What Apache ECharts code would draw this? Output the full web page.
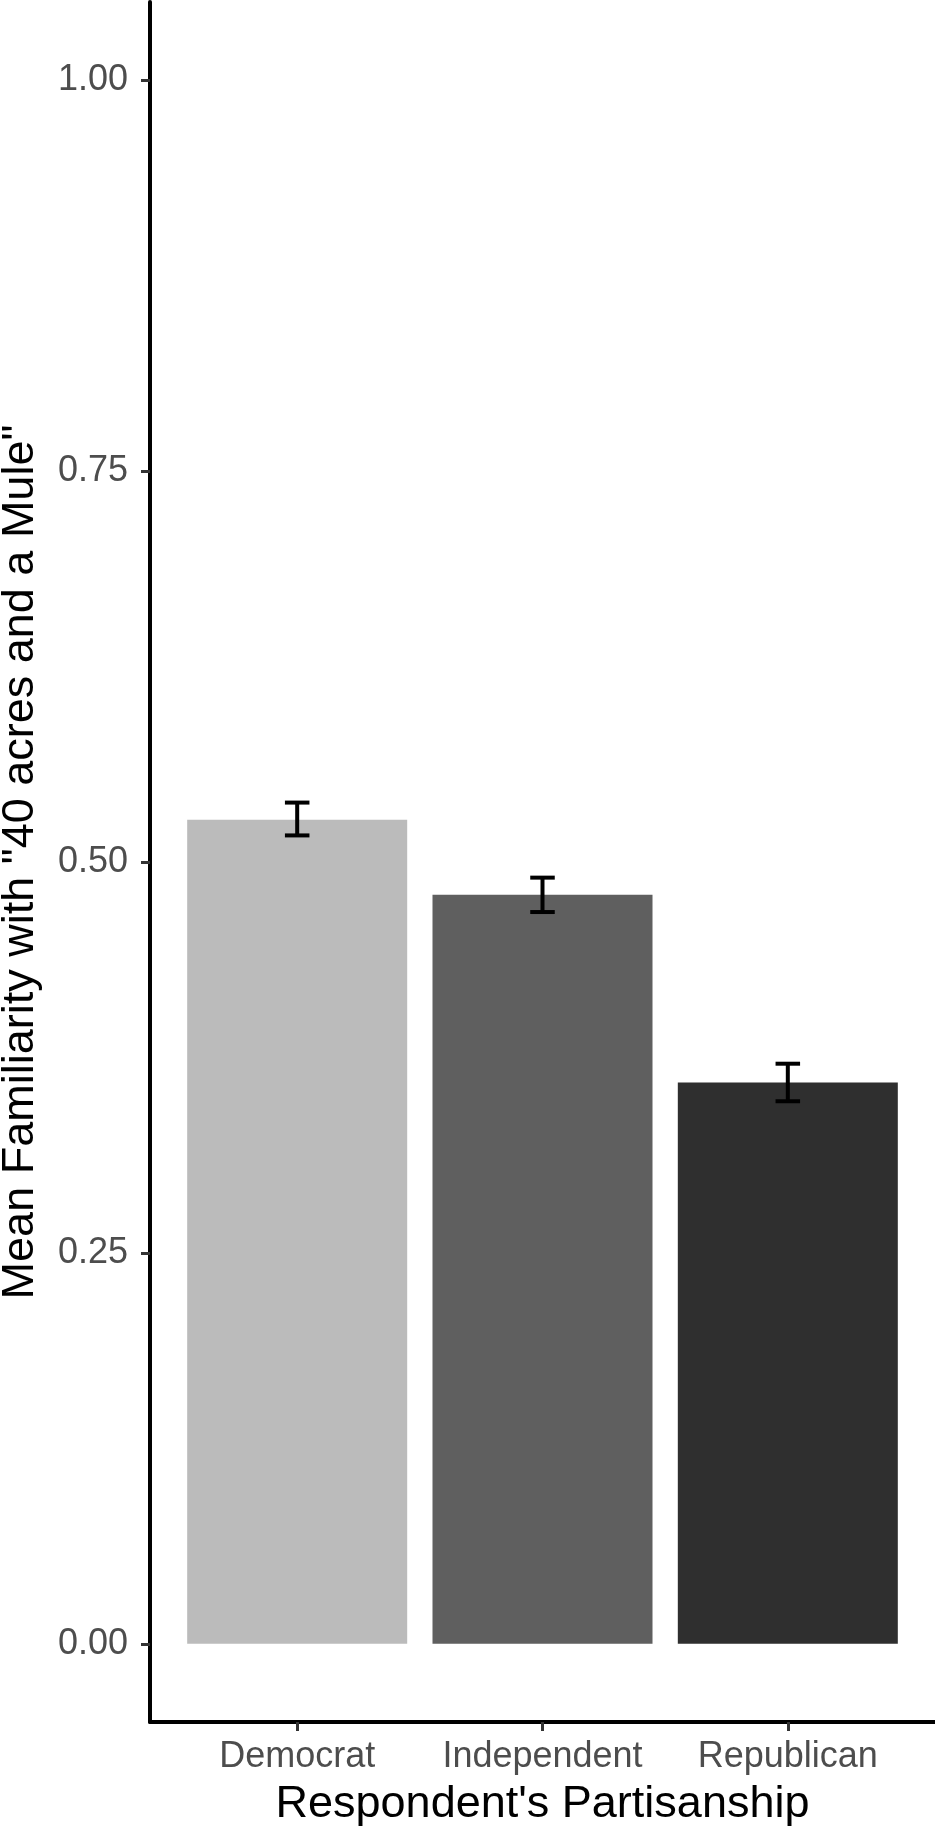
<!DOCTYPE html>
<html>
<head>
<meta charset="utf-8">
<script src="https://cdn.jsdelivr.net/npm/echarts@6/dist/echarts.min.js"></script>
<style>
  html, body { margin: 0; padding: 0; background: #fff; }
  #main { width: 935px; height: 1833px; }
</style>
</head>
<body>
<div id="main"></div>
<script>
// data
let categories = ["Democrat", "Independent", "Republican"];
let means = [0.527, 0.479, 0.359];
let lower = [0.517, 0.468, 0.347];
let upper = [0.538, 0.490, 0.371];
let barColors = ["#bbbbbb", "#5f5f5f", "#2f2f2f"];
let yTicks = [0, 0.25, 0.5, 0.75, 1];

let myChart = echarts.init(document.getElementById("main"));

let font = "Liberation Sans, Arial, Helvetica, sans-serif";

// bars sit on a numeric x axis at 1, 2, 3 (like ggplot's discrete scale)
let barData = means.map((m, i) => ({
  value: [i + 1, m],
  itemStyle: { color: barColors[i] }
}));
let errData = means.map((m, i) => [i + 1, lower[i], upper[i]]);

let options = {
  animation: false,
  grid: { left: 150, right: 0, top: 2, bottom: 111, containLabel: false, outerBoundsMode: "none" },
  xAxis: {
    type: "value",
    min: 0.4,
    max: 3.6,
    name: "Respondent's Partisanship",
    nameLocation: "middle",
    nameGap: 60,
    nameTextStyle: { fontFamily: font, fontSize: 45, color: "#000" },
    axisLine: { onZero: false, lineStyle: { color: "#000", width: 4 } },
    axisTick: { show: true, length: 9, customValues: [1, 2, 3], lineStyle: { color: "#333", width: 3 } },
    axisLabel: {
      customValues: [1, 2, 3],
      margin: 17,
      fontFamily: font,
      fontSize: 36,
      color: "#4d4d4d",
      formatter: (v) => categories[Math.round(v) - 1] || ""
    },
    splitLine: { show: false }
  },
  yAxis: {
    type: "value",
    min: -0.05,
    max: 1.05,
    name: 'Mean Familiarity with "40 acres and a Mule"',
    nameLocation: "middle",
    nameGap: 107,
    nameTextStyle: { fontFamily: font, fontSize: 45, color: "#000" },
    axisLine: { show: true, onZero: false, lineStyle: { color: "#000", width: 4 } },
    axisTick: { show: true, length: 9, customValues: yTicks, lineStyle: { color: "#333", width: 3 } },
    axisLabel: {
      customValues: yTicks,
      margin: 22,
      fontFamily: font,
      fontSize: 36,
      color: "#4d4d4d",
      formatter: (v) => v.toFixed(2)
    },
    splitLine: { show: false }
  },
  series: [
    {
      type: "bar",
      data: barData,
      barWidth: 220
    },
    {
      type: "custom",
      data: errData,
      z: 5,
      renderItem: (params, api) => {
        let x = api.value(0);
        let lo = api.coord([x, api.value(1)]);
        let hi = api.coord([x, api.value(2)]);
        let half = api.size([0.1, 0])[0] / 2;
        let style = { stroke: "#000", lineWidth: 4 };
        return {
          type: "group",
          children: [
            { type: "line", shape: { x1: lo[0], y1: lo[1], x2: hi[0], y2: hi[1] }, style },
            { type: "line", shape: { x1: hi[0] - half, y1: hi[1], x2: hi[0] + half, y2: hi[1] }, style },
            { type: "line", shape: { x1: lo[0] - half, y1: lo[1], x2: lo[0] + half, y2: lo[1] }, style }
          ]
        };
      }
    }
  ]
};

myChart.setOption(options);
</script>
</body>
</html>
